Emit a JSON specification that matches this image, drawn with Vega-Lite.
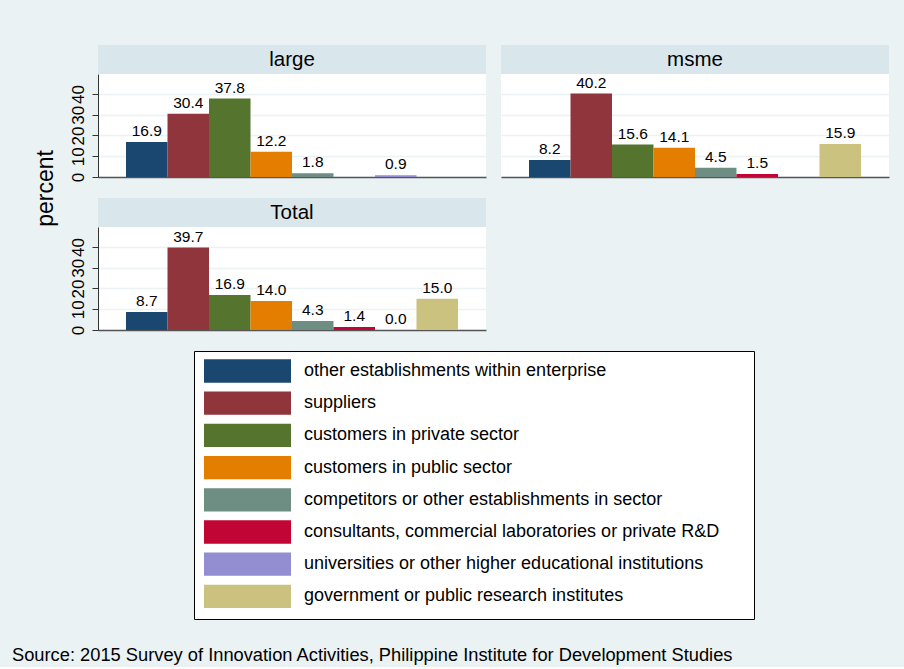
{
  "$schema": "https://vega.github.io/schema/vega-lite/v6.json",
  "background": "#EAF2F3",
  "padding": {"left": 12, "top": 45, "right": 16, "bottom": 3},
  "datasets": {
    "bars": [
      {"panel": "large", "source": "other establishments within enterprise", "percent": 16.9},
      {"panel": "large", "source": "suppliers", "percent": 30.4},
      {"panel": "large", "source": "customers in private sector", "percent": 37.8},
      {"panel": "large", "source": "customers in public sector", "percent": 12.2},
      {"panel": "large", "source": "competitors or other establishments in sector", "percent": 1.8},
      {"panel": "large", "source": "universities or other higher educational institutions", "percent": 0.9},
      {"panel": "msme", "source": "other establishments within enterprise", "percent": 8.2},
      {"panel": "msme", "source": "suppliers", "percent": 40.2},
      {"panel": "msme", "source": "customers in private sector", "percent": 15.6},
      {"panel": "msme", "source": "customers in public sector", "percent": 14.1},
      {"panel": "msme", "source": "competitors or other establishments in sector", "percent": 4.5},
      {"panel": "msme", "source": "consultants, commercial laboratories or private R&D", "percent": 1.5},
      {"panel": "msme", "source": "government or public research institutes", "percent": 15.9},
      {"panel": "Total", "source": "other establishments within enterprise", "percent": 8.7},
      {"panel": "Total", "source": "suppliers", "percent": 39.7},
      {"panel": "Total", "source": "customers in private sector", "percent": 16.9},
      {"panel": "Total", "source": "customers in public sector", "percent": 14.0},
      {"panel": "Total", "source": "competitors or other establishments in sector", "percent": 4.3},
      {"panel": "Total", "source": "consultants, commercial laboratories or private R&D", "percent": 1.4},
      {"panel": "Total", "source": "universities or other higher educational institutions", "percent": 0.0},
      {"panel": "Total", "source": "government or public research institutes", "percent": 15.0}
    ]
  },
  "title": {
    "text": "Source: 2015 Survey of Innovation Activities, Philippine Institute for Development Studies",
    "orient": "bottom",
    "anchor": "start",
    "dx": -22,
    "offset": 27,
    "fontSize": 18.3,
    "fontWeight": "normal",
    "font": "Liberation Sans",
    "color": "#000000"
  },
  "hconcat": [
    {
      "width": 24,
      "height": 287,
      "view": {"stroke": null, "fill": null},
      "data": {"values": [{"t": "percent"}]},
      "mark": {"type": "text", "angle": 270, "fontSize": 23, "font": "Liberation Sans", "color": "#000000", "align": "center", "baseline": "middle"},
      "encoding": {"text": {"field": "t", "type": "nominal"}}
    },
    {
      "vconcat": [
        {
          "hconcat": [
            {
              "vconcat": [
                {
                  "width": 388, "height": 29,
                  "view": {"fill": "#D9E6EB", "stroke": null},
                  "data": {"values": [{"panel": "large"}]},
                  "mark": {"type": "text", "fontSize": 20.5, "font": "Liberation Sans", "color": "#000000", "align": "center", "baseline": "middle"},
                  "encoding": {"text": {"field": "panel", "type": "nominal"}}
                },
                {
                  "width": 388, "height": 103,
                  "view": {"fill": "white", "stroke": null},
                  "data": {"name": "bars"},
                  "transform": [{"filter": "datum.panel === 'large'"}],
                  "encoding": {
                    "x": {"field": "source", "type": "nominal",
                      "scale": {"domain": ["other establishments within enterprise", "suppliers", "customers in private sector", "customers in public sector", "competitors or other establishments in sector", "consultants, commercial laboratories or private R&D", "universities or other higher educational institutions", "government or public research institutes"], "paddingInner": 0, "paddingOuter": 0.675},
                      "axis": {"labels": false, "ticks": false, "title": null, "grid": false, "domainColor": "#555555", "domainWidth": 1.5}},
                    "y": {"field": "percent", "type": "quantitative",
                      "scale": {"domain": [0, 49.6], "nice": false},
                      "axis": {"title": null, "values": [0, 10, 20, 30, 40], "labelAngle": 270, "labelFontSize": 17, "labelFont": "Liberation Sans", "labelColor": "#000000", "labelPadding": 5, "labelOverlap": false, "tickSize": 6, "tickColor": "#333333", "domainColor": "#333333", "grid": true, "gridColor": "#EAF2F3", "gridWidth": 1.3}}
                  },
                  "layer": [
                    {"mark": {"type": "bar"},
                     "encoding": {"color": {"field": "source", "type": "nominal",
                       "scale": {"domain": ["other establishments within enterprise", "suppliers", "customers in private sector", "customers in public sector", "competitors or other establishments in sector", "consultants, commercial laboratories or private R&D", "universities or other higher educational institutions", "government or public research institutes"], "range": ["#1a476f", "#90353b", "#55752f", "#e37e00", "#6e8e84", "#c10534", "#938dd2", "#cac27e"]},
                       "legend": {"orient": "none", "legendX": 160, "legendY": 306, "title": "\u00a0", "titleOrient": "right", "titleFontSize": 11, "titlePadding": 25, "symbolType": "M-4.35,-1.165L4.35,-1.165L4.35,1.165L-4.35,1.165Z", "symbolSize": 400, "symbolOffset": 33.5, "symbolStrokeWidth": 0, "symbolOpacity": 1, "labelFontSize": 18, "labelFont": "Liberation Sans", "labelColor": "#000000", "labelOffset": 46.5, "labelLimit": 700, "rowPadding": 8.2, "padding": 10, "fillColor": "white", "strokeColor": "#000000"}}}},
                    {"mark": {"type": "text", "baseline": "alphabetic", "dy": -6, "fontSize": 15.5, "font": "Liberation Sans", "color": "#000000"},
                     "encoding": {"text": {"field": "percent", "type": "quantitative", "format": ".1f"}}}
                  ]
                }
              ],
              "spacing": 0
            },
            {
              "vconcat": [
                {
                  "width": 388, "height": 29,
                  "view": {"fill": "#D9E6EB", "stroke": null},
                  "data": {"values": [{"panel": "msme"}]},
                  "mark": {"type": "text", "fontSize": 20.5, "font": "Liberation Sans", "color": "#000000", "align": "center", "baseline": "middle"},
                  "encoding": {"text": {"field": "panel", "type": "nominal"}}
                },
                {
                  "width": 388, "height": 103,
                  "view": {"fill": "white", "stroke": null},
                  "data": {"name": "bars"},
                  "transform": [{"filter": "datum.panel === 'msme'"}],
                  "encoding": {
                    "x": {"field": "source", "type": "nominal",
                      "scale": {"domain": ["other establishments within enterprise", "suppliers", "customers in private sector", "customers in public sector", "competitors or other establishments in sector", "consultants, commercial laboratories or private R&D", "universities or other higher educational institutions", "government or public research institutes"], "paddingInner": 0, "paddingOuter": 0.675},
                      "axis": {"labels": false, "ticks": false, "title": null, "grid": false, "domainColor": "#555555", "domainWidth": 1.5}},
                    "y": {"field": "percent", "type": "quantitative",
                      "scale": {"domain": [0, 49.6], "nice": false},
                      "axis": {"title": null, "values": [0, 10, 20, 30, 40], "labels": false, "ticks": false, "domain": false, "grid": true, "gridColor": "#EAF2F3", "gridWidth": 1.3}}
                  },
                  "layer": [
                    {"mark": {"type": "bar"},
                     "encoding": {"color": {"field": "source", "type": "nominal",
                       "scale": {"domain": ["other establishments within enterprise", "suppliers", "customers in private sector", "customers in public sector", "competitors or other establishments in sector", "consultants, commercial laboratories or private R&D", "universities or other higher educational institutions", "government or public research institutes"], "range": ["#1a476f", "#90353b", "#55752f", "#e37e00", "#6e8e84", "#c10534", "#938dd2", "#cac27e"]},
                       "legend": {"orient": "none", "legendX": 160, "legendY": 306, "title": "\u00a0", "titleOrient": "right", "titleFontSize": 11, "titlePadding": 25, "symbolType": "M-4.35,-1.165L4.35,-1.165L4.35,1.165L-4.35,1.165Z", "symbolSize": 400, "symbolOffset": 33.5, "symbolStrokeWidth": 0, "symbolOpacity": 1, "labelFontSize": 18, "labelFont": "Liberation Sans", "labelColor": "#000000", "labelOffset": 46.5, "labelLimit": 700, "rowPadding": 8.2, "padding": 10, "fillColor": "white", "strokeColor": "#000000"}}}},
                    {"mark": {"type": "text", "baseline": "alphabetic", "dy": -6, "fontSize": 15.5, "font": "Liberation Sans", "color": "#000000"},
                     "encoding": {"text": {"field": "percent", "type": "quantitative", "format": ".1f"}}}
                  ]
                }
              ],
              "spacing": 0
            }
          ],
          "spacing": 15
        },
        {
          "vconcat": [
            {
              "width": 388, "height": 29,
              "view": {"fill": "#D9E6EB", "stroke": null},
              "data": {"values": [{"panel": "Total"}]},
              "mark": {"type": "text", "fontSize": 20.5, "font": "Liberation Sans", "color": "#000000", "align": "center", "baseline": "middle"},
              "encoding": {"text": {"field": "panel", "type": "nominal"}}
            },
            {
              "width": 388, "height": 103,
              "view": {"fill": "white", "stroke": null},
              "data": {"name": "bars"},
              "transform": [{"filter": "datum.panel === 'Total'"}],
              "encoding": {
                "x": {"field": "source", "type": "nominal",
                  "scale": {"domain": ["other establishments within enterprise", "suppliers", "customers in private sector", "customers in public sector", "competitors or other establishments in sector", "consultants, commercial laboratories or private R&D", "universities or other higher educational institutions", "government or public research institutes"], "paddingInner": 0, "paddingOuter": 0.675},
                  "axis": {"labels": false, "ticks": false, "title": null, "grid": false, "domainColor": "#555555", "domainWidth": 1.5}},
                "y": {"field": "percent", "type": "quantitative",
                  "scale": {"domain": [0, 49.6], "nice": false},
                  "axis": {"title": null, "values": [0, 10, 20, 30, 40], "labelAngle": 270, "labelFontSize": 17, "labelFont": "Liberation Sans", "labelColor": "#000000", "labelPadding": 5, "labelOverlap": false, "tickSize": 6, "tickColor": "#333333", "domainColor": "#333333", "grid": true, "gridColor": "#EAF2F3", "gridWidth": 1.3}}
              },
              "layer": [
                {"mark": {"type": "bar"},
                 "encoding": {"color": {"field": "source", "type": "nominal",
                   "scale": {"domain": ["other establishments within enterprise", "suppliers", "customers in private sector", "customers in public sector", "competitors or other establishments in sector", "consultants, commercial laboratories or private R&D", "universities or other higher educational institutions", "government or public research institutes"], "range": ["#1a476f", "#90353b", "#55752f", "#e37e00", "#6e8e84", "#c10534", "#938dd2", "#cac27e"]},
                   "legend": {"orient": "none", "legendX": 160, "legendY": 306, "title": "\u00a0", "titleOrient": "right", "titleFontSize": 11, "titlePadding": 25, "symbolType": "M-4.35,-1.165L4.35,-1.165L4.35,1.165L-4.35,1.165Z", "symbolSize": 400, "symbolOffset": 33.5, "symbolStrokeWidth": 0, "symbolOpacity": 1, "labelFontSize": 18, "labelFont": "Liberation Sans", "labelColor": "#000000", "labelOffset": 46.5, "labelLimit": 700, "rowPadding": 8.2, "padding": 10, "fillColor": "white", "strokeColor": "#000000"}}}},
                {"mark": {"type": "text", "baseline": "alphabetic", "dy": -6, "fontSize": 15.5, "font": "Liberation Sans", "color": "#000000"},
                 "encoding": {"text": {"field": "percent", "type": "quantitative", "format": ".1f"}}}
              ]
            }
          ],
          "spacing": 0
        }
      ],
      "spacing": 16
    }
  ],
  "spacing": 10,
  "config": {
    "font": "Liberation Sans",
    "view": {"stroke": null}
  }
}
